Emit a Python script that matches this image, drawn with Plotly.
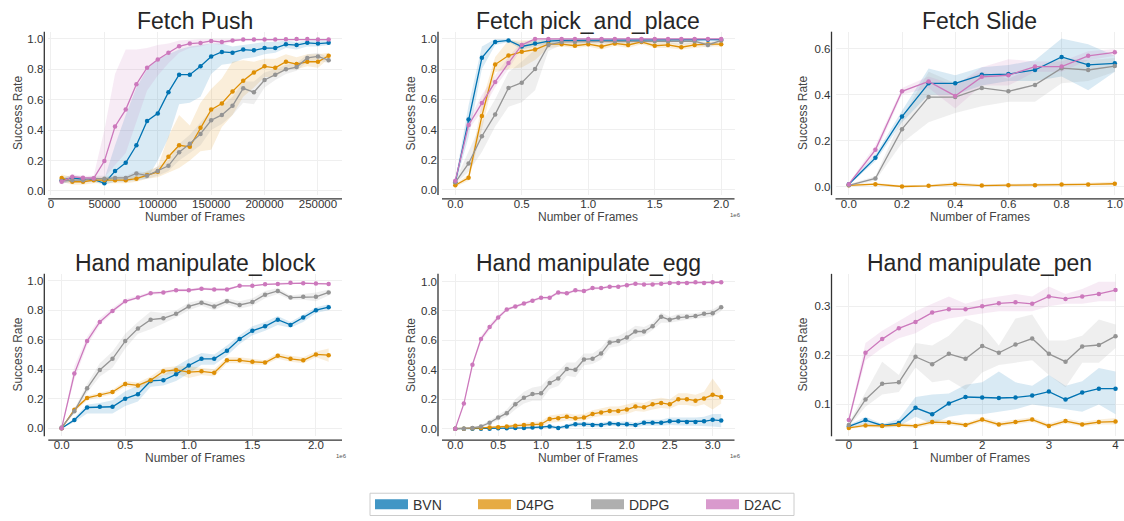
import plotly.graph_objects as go

W, H = 1124, 521

# ---------------- data ----------------
series_names = ["BVN", "D4PG", "DDPG", "D2AC"]
line_colors = {"BVN": (1, 115, 178), "D4PG": (222, 143, 5), "DDPG": (148, 148, 148), "D2AC": (204, 120, 188)}

titles = ["Fetch Push", "Fetch pick_and_place", "Fetch Slide",
          "Hand manipulate_block", "Hand manipulate_egg", "Hand manipulate_pen"]

# ---- Fetch Push ----
push_x = [10000, 20000, 30000, 40000, 50000, 60000, 70000, 80000, 90000, 100000, 110000, 120000, 130000,
          140000, 150000, 160000, 170000, 180000, 190000, 200000, 210000, 220000, 230000, 240000, 250000, 260000]
push_bvn = [0.07, 0.085, 0.075, 0.075, 0.05, 0.13, 0.185, 0.30, 0.46, 0.51, 0.65, 0.765, 0.765, 0.82, 0.885, 0.915, 0.91, 0.93, 0.925, 0.94, 0.94, 0.965, 0.96, 0.975, 0.97, 0.975]
push_bvn_lo = [0.05, 0.06, 0.06, 0.06, 0.04, 0.06, 0.06, 0.07, 0.08, 0.20, 0.35, 0.57, 0.58, 0.62, 0.77, 0.83, 0.84, 0.87, 0.88, 0.90, 0.91, 0.94, 0.93, 0.95, 0.95, 0.96]
push_bvn_hi = [0.09, 0.10, 0.09, 0.09, 0.08, 0.30, 0.50, 0.68, 0.80, 0.87, 0.90, 0.93, 0.95, 0.96, 0.97, 0.97, 0.95, 0.96, 0.97, 0.98, 0.98, 0.99, 0.98, 0.99, 0.99, 0.99]
push_d4pg = [0.085, 0.06, 0.06, 0.07, 0.07, 0.07, 0.07, 0.08, 0.105, 0.125, 0.225, 0.30, 0.29, 0.415, 0.535, 0.575, 0.655, 0.725, 0.78, 0.82, 0.81, 0.85, 0.835, 0.85, 0.85, 0.89]
push_d4pg_lo = [0.06, 0.04, 0.04, 0.05, 0.05, 0.05, 0.05, 0.06, 0.08, 0.09, 0.12, 0.15, 0.20, 0.26, 0.27, 0.42, 0.50, 0.62, 0.68, 0.75, 0.75, 0.80, 0.80, 0.82, 0.81, 0.87]
push_d4pg_hi = [0.11, 0.09, 0.08, 0.09, 0.09, 0.09, 0.09, 0.10, 0.13, 0.16, 0.36, 0.50, 0.43, 0.58, 0.67, 0.74, 0.85, 0.86, 0.85, 0.87, 0.87, 0.90, 0.88, 0.90, 0.90, 0.91]
push_ddpg = [0.065, 0.07, 0.07, 0.08, 0.08, 0.085, 0.085, 0.115, 0.10, 0.13, 0.165, 0.255, 0.31, 0.375, 0.465, 0.50, 0.56, 0.675, 0.65, 0.73, 0.765, 0.80, 0.815, 0.875, 0.885, 0.86]
push_ddpg_lo = [0.05, 0.055, 0.055, 0.06, 0.06, 0.07, 0.07, 0.09, 0.08, 0.10, 0.13, 0.20, 0.25, 0.30, 0.40, 0.44, 0.50, 0.58, 0.57, 0.68, 0.73, 0.77, 0.79, 0.85, 0.86, 0.84]
push_ddpg_hi = [0.08, 0.085, 0.085, 0.10, 0.10, 0.10, 0.10, 0.13, 0.12, 0.16, 0.20, 0.31, 0.37, 0.45, 0.53, 0.56, 0.62, 0.72, 0.72, 0.78, 0.80, 0.83, 0.84, 0.90, 0.91, 0.88]
push_d2ac = [0.06, 0.093, 0.087, 0.083, 0.196, 0.424, 0.535, 0.702, 0.811, 0.865, 0.909, 0.952, 0.97, 0.974, 0.987, 0.98, 0.99, 0.996, 0.996, 0.996, 0.996, 0.998, 1.0, 1.0, 0.996, 0.996]
push_d2ac_lo = [0.04, 0.08, 0.07, 0.07, 0.09, 0.17, 0.25, 0.45, 0.66, 0.76, 0.84, 0.91, 0.94, 0.95, 0.97, 0.96, 0.98, 0.99, 0.99, 0.99, 0.99, 0.995, 0.995, 0.995, 0.99, 0.99]
push_d2ac_hi = [0.08, 0.11, 0.10, 0.10, 0.40, 0.77, 0.93, 0.93, 0.94, 0.96, 0.97, 0.99, 0.995, 1.0, 1.0, 1.0, 1.0, 1.0, 1.0, 1.0, 1.0, 1.0, 1.0, 1.0, 1.0, 1.0]

# ---- Fetch pick_and_place ----
pick_x = [0, 100000, 200000, 300000, 400000, 500000, 600000, 700000, 800000, 900000, 1000000, 1100000,
          1200000, 1300000, 1400000, 1500000, 1600000, 1700000, 1800000, 1900000, 2000000]
pick_bvn = [0.05, 0.466, 0.875, 0.98, 0.99, 0.95, 0.97, 0.985, 0.99, 0.99, 0.995, 0.995, 0.995, 0.99, 0.995, 0.995, 0.99, 0.99, 0.995, 0.995, 0.995]
pick_bvn_lo = [0.03, 0.35, 0.80, 0.96, 0.98, 0.93, 0.95, 0.97, 0.98, 0.98, 0.99, 0.99, 0.99, 0.98, 0.99, 0.99, 0.98, 0.98, 0.99, 0.99, 0.99]
pick_bvn_hi = [0.07, 0.56, 0.95, 1.0, 1.0, 0.97, 0.99, 1.0, 1.0, 1.0, 1.0, 1.0, 1.0, 1.0, 1.0, 1.0, 1.0, 1.0, 1.0, 1.0, 1.0]
pick_d4pg = [0.03, 0.08, 0.49, 0.83, 0.89, 0.915, 0.93, 0.965, 0.965, 0.955, 0.965, 0.95, 0.97, 0.96, 0.98, 0.955, 0.96, 0.945, 0.96, 0.965, 0.965]
pick_d4pg_lo = [0.02, 0.06, 0.40, 0.78, 0.80, 0.81, 0.86, 0.94, 0.95, 0.94, 0.95, 0.93, 0.955, 0.94, 0.965, 0.94, 0.94, 0.93, 0.94, 0.95, 0.95]
pick_d4pg_hi = [0.04, 0.10, 0.58, 0.88, 0.99, 0.99, 0.99, 0.99, 0.98, 0.975, 0.98, 0.97, 0.985, 0.98, 0.995, 0.975, 0.98, 0.965, 0.98, 0.98, 0.98]
pick_ddpg = [0.05, 0.175, 0.355, 0.50, 0.675, 0.71, 0.80, 0.96, 0.98, 0.98, 0.985, 0.985, 0.985, 0.985, 0.985, 0.985, 0.985, 0.98, 0.985, 0.96, 0.99]
pick_ddpg_lo = [0.04, 0.12, 0.25, 0.42, 0.55, 0.58, 0.66, 0.92, 0.96, 0.96, 0.97, 0.97, 0.97, 0.97, 0.97, 0.97, 0.97, 0.96, 0.97, 0.94, 0.98]
pick_ddpg_hi = [0.06, 0.25, 0.45, 0.60, 0.78, 0.85, 0.93, 1.0, 1.0, 1.0, 1.0, 1.0, 1.0, 1.0, 1.0, 1.0, 1.0, 1.0, 1.0, 0.98, 1.0]
pick_d2ac = [0.06, 0.43, 0.575, 0.715, 0.84, 0.96, 1.0, 1.0, 1.0, 1.0, 1.0, 1.0, 1.0, 1.0, 1.0, 1.0, 1.0, 1.0, 1.0, 1.0, 1.0]
pick_d2ac_lo = [0.05, 0.40, 0.52, 0.68, 0.80, 0.94, 0.99, 0.995, 0.995, 0.995, 0.995, 0.995, 0.995, 0.995, 0.995, 0.995, 0.995, 0.995, 0.995, 0.995, 0.995]
pick_d2ac_hi = [0.07, 0.46, 0.63, 0.76, 0.88, 0.98, 1.0, 1.0, 1.0, 1.0, 1.0, 1.0, 1.0, 1.0, 1.0, 1.0, 1.0, 1.0, 1.0, 1.0, 1.0]

# ---- Fetch Slide ----
slide_x = [0, 100000, 200000, 300000, 400000, 500000, 600000, 700000, 800000, 900000, 1000000]
slide_bvn = [0.01, 0.125, 0.305, 0.45, 0.45, 0.487, 0.49, 0.508, 0.565, 0.53, 0.537]
slide_bvn_lo = [0.005, 0.11, 0.28, 0.40, 0.40, 0.44, 0.46, 0.46, 0.48, 0.42, 0.50]
slide_bvn_hi = [0.015, 0.14, 0.33, 0.515, 0.485, 0.52, 0.53, 0.55, 0.645, 0.62, 0.57]
slide_d4pg = [0.005, 0.01, 0.0, 0.003, 0.01, 0.004, 0.006, 0.006, 0.009, 0.009, 0.012]
slide_d4pg_lo = [0.0, 0.005, -0.005, -0.002, 0.002, 0.0, 0.002, 0.002, 0.004, 0.003, 0.004]
slide_d4pg_hi = [0.01, 0.015, 0.005, 0.008, 0.02, 0.01, 0.012, 0.012, 0.015, 0.016, 0.022]
slide_ddpg = [0.005, 0.035, 0.25, 0.39, 0.39, 0.43, 0.415, 0.443, 0.516, 0.508, 0.525]
slide_ddpg_lo = [0.0, 0.025, 0.19, 0.28, 0.32, 0.35, 0.37, 0.37, 0.45, 0.46, 0.50]
slide_ddpg_hi = [0.01, 0.045, 0.30, 0.50, 0.45, 0.50, 0.47, 0.52, 0.56, 0.55, 0.56]
slide_d2ac = [0.01, 0.16, 0.415, 0.458, 0.395, 0.478, 0.485, 0.523, 0.523, 0.57, 0.585]
slide_d2ac_lo = [0.005, 0.14, 0.40, 0.43, 0.34, 0.44, 0.44, 0.50, 0.50, 0.55, 0.57]
slide_d2ac_hi = [0.015, 0.18, 0.43, 0.48, 0.44, 0.52, 0.555, 0.545, 0.545, 0.59, 0.60]

# ---- Hand manipulate_block ----
block_x = [0, 100000, 200000, 300000, 400000, 500000, 600000, 700000, 800000, 900000, 1000000, 1100000,
           1200000, 1300000, 1400000, 1500000, 1600000, 1700000, 1800000, 1900000, 2000000, 2100000]
block_bvn = [0.0, 0.055, 0.14, 0.145, 0.145, 0.2, 0.23, 0.32, 0.325, 0.365, 0.425, 0.47, 0.47, 0.525, 0.605, 0.66, 0.69, 0.735, 0.70, 0.75, 0.80, 0.82]
block_bvn_lo = [0.0, 0.04, 0.10, 0.10, 0.10, 0.15, 0.18, 0.28, 0.29, 0.32, 0.37, 0.43, 0.43, 0.49, 0.57, 0.63, 0.66, 0.70, 0.68, 0.72, 0.78, 0.80]
block_bvn_hi = [0.0, 0.07, 0.16, 0.17, 0.19, 0.25, 0.29, 0.34, 0.36, 0.42, 0.47, 0.51, 0.50, 0.56, 0.63, 0.69, 0.72, 0.76, 0.72, 0.77, 0.82, 0.84]
block_d4pg = [0.0, 0.125, 0.205, 0.225, 0.245, 0.30, 0.29, 0.325, 0.385, 0.395, 0.38, 0.385, 0.375, 0.46, 0.46, 0.45, 0.445, 0.49, 0.47, 0.46, 0.50, 0.495]
block_d4pg_lo = [0.0, 0.11, 0.19, 0.21, 0.23, 0.28, 0.27, 0.30, 0.36, 0.37, 0.34, 0.36, 0.35, 0.44, 0.44, 0.43, 0.43, 0.47, 0.45, 0.44, 0.48, 0.45]
block_d4pg_hi = [0.0, 0.14, 0.22, 0.24, 0.26, 0.32, 0.31, 0.35, 0.41, 0.42, 0.42, 0.41, 0.40, 0.48, 0.48, 0.47, 0.46, 0.51, 0.49, 0.48, 0.52, 0.54]
block_ddpg = [0.005, 0.115, 0.27, 0.395, 0.47, 0.59, 0.675, 0.735, 0.745, 0.775, 0.825, 0.85, 0.825, 0.86, 0.835, 0.855, 0.905, 0.93, 0.885, 0.89, 0.89, 0.92]
block_ddpg_lo = [0.0, 0.10, 0.24, 0.35, 0.41, 0.54, 0.64, 0.67, 0.71, 0.75, 0.80, 0.83, 0.80, 0.84, 0.81, 0.83, 0.88, 0.91, 0.87, 0.87, 0.86, 0.90]
block_ddpg_hi = [0.01, 0.13, 0.30, 0.44, 0.52, 0.64, 0.72, 0.79, 0.78, 0.80, 0.85, 0.87, 0.85, 0.88, 0.86, 0.88, 0.93, 0.95, 0.90, 0.91, 0.92, 0.94]
block_d2ac = [0.0, 0.37, 0.59, 0.72, 0.795, 0.86, 0.885, 0.915, 0.92, 0.935, 0.935, 0.945, 0.94, 0.94, 0.965, 0.965, 0.975, 0.978, 0.985, 0.983, 0.98, 0.978]
block_d2ac_lo = [0.0, 0.33, 0.56, 0.70, 0.78, 0.85, 0.875, 0.905, 0.91, 0.925, 0.925, 0.94, 0.93, 0.93, 0.96, 0.96, 0.97, 0.972, 0.98, 0.978, 0.975, 0.972]
block_d2ac_hi = [0.0, 0.42, 0.62, 0.745, 0.815, 0.875, 0.9, 0.925, 0.93, 0.945, 0.945, 0.955, 0.95, 0.95, 0.97, 0.97, 0.98, 0.984, 0.99, 0.988, 0.985, 0.984]

# ---- Hand manipulate_egg ----
egg_x = [0, 100000, 200000, 300000, 400000, 500000, 600000, 700000, 800000, 900000, 1000000, 1100000,
         1200000, 1300000, 1400000, 1500000, 1600000, 1700000, 1800000, 1900000, 2000000, 2100000,
         2200000, 2300000, 2400000, 2500000, 2600000, 2700000, 2800000, 2900000, 3000000, 3100000]
egg_bvn = [0.0, 0.0, 0.0, 0.0, 0.0, 0.002, 0.003, 0.004, 0.005, 0.007, 0.01, 0.015, 0.005, 0.015, 0.03, 0.03, 0.025, 0.025, 0.035, 0.03, 0.03, 0.025, 0.04, 0.04, 0.04, 0.05, 0.05, 0.045, 0.045, 0.05, 0.06, 0.055]
egg_bvn_lo = [0.0, 0.0, 0.0, 0.0, 0.0, 0.0, 0.0, 0.0, 0.0, 0.0, 0.0, 0.005, 0.0, 0.005, 0.015, 0.015, 0.01, 0.01, 0.02, 0.015, 0.015, 0.01, 0.02, 0.02, 0.02, 0.025, 0.025, 0.02, 0.02, 0.02, 0.015, 0.01]
egg_bvn_hi = [0.0, 0.0, 0.0, 0.002, 0.003, 0.005, 0.007, 0.01, 0.012, 0.015, 0.02, 0.028, 0.015, 0.03, 0.045, 0.047, 0.04, 0.04, 0.05, 0.047, 0.05, 0.04, 0.06, 0.06, 0.06, 0.075, 0.075, 0.07, 0.075, 0.08, 0.1, 0.1]
egg_d4pg = [0.0, 0.0, 0.003, 0.005, 0.008, 0.01, 0.015, 0.02, 0.025, 0.03, 0.03, 0.065, 0.07, 0.08, 0.07, 0.075, 0.1, 0.11, 0.12, 0.12, 0.13, 0.15, 0.145, 0.165, 0.175, 0.165, 0.2, 0.2, 0.19, 0.205, 0.23, 0.215]
egg_d4pg_lo = [0.0, 0.0, 0.0, 0.0, 0.0, 0.003, 0.005, 0.01, 0.013, 0.015, 0.015, 0.04, 0.045, 0.055, 0.05, 0.055, 0.075, 0.085, 0.09, 0.09, 0.1, 0.12, 0.115, 0.13, 0.14, 0.135, 0.16, 0.16, 0.15, 0.165, 0.13, 0.17]
egg_d4pg_hi = [0.0, 0.0, 0.006, 0.01, 0.016, 0.02, 0.025, 0.03, 0.04, 0.045, 0.05, 0.09, 0.1, 0.105, 0.095, 0.1, 0.125, 0.14, 0.15, 0.15, 0.165, 0.18, 0.175, 0.2, 0.21, 0.2, 0.24, 0.24, 0.23, 0.25, 0.34, 0.26]
egg_ddpg = [0.0, 0.0, 0.005, 0.015, 0.04, 0.075, 0.105, 0.165, 0.21, 0.235, 0.24, 0.31, 0.34, 0.405, 0.40, 0.47, 0.475, 0.51, 0.585, 0.595, 0.62, 0.66, 0.66, 0.695, 0.76, 0.74, 0.755, 0.76, 0.765, 0.78, 0.785, 0.825]
egg_ddpg_lo = [0.0, 0.0, 0.0, 0.005, 0.025, 0.055, 0.08, 0.13, 0.17, 0.19, 0.19, 0.27, 0.29, 0.36, 0.35, 0.43, 0.44, 0.47, 0.55, 0.56, 0.58, 0.62, 0.63, 0.67, 0.72, 0.72, 0.73, 0.74, 0.745, 0.755, 0.76, 0.80]
egg_ddpg_hi = [0.0, 0.0, 0.01, 0.025, 0.055, 0.095, 0.13, 0.2, 0.25, 0.28, 0.29, 0.35, 0.39, 0.45, 0.45, 0.51, 0.51, 0.55, 0.62, 0.63, 0.66, 0.70, 0.69, 0.72, 0.79, 0.76, 0.78, 0.78, 0.785, 0.80, 0.81, 0.845]
egg_d2ac = [0.0, 0.17, 0.435, 0.61, 0.69, 0.755, 0.81, 0.83, 0.85, 0.87, 0.89, 0.89, 0.925, 0.92, 0.94, 0.935, 0.955, 0.955, 0.965, 0.965, 0.975, 0.985, 0.98, 0.98, 0.985, 0.99, 0.99, 0.99, 0.995, 0.99, 0.995, 0.995]
egg_d2ac_lo = [0.0, 0.16, 0.42, 0.59, 0.67, 0.74, 0.80, 0.82, 0.84, 0.86, 0.88, 0.88, 0.915, 0.91, 0.93, 0.925, 0.945, 0.945, 0.955, 0.957, 0.967, 0.977, 0.972, 0.972, 0.977, 0.983, 0.983, 0.983, 0.988, 0.983, 0.988, 0.988]
egg_d2ac_hi = [0.0, 0.18, 0.45, 0.63, 0.71, 0.77, 0.82, 0.84, 0.86, 0.88, 0.90, 0.90, 0.935, 0.93, 0.95, 0.945, 0.965, 0.965, 0.975, 0.973, 0.983, 0.993, 0.988, 0.988, 0.993, 0.997, 0.997, 0.997, 1.0, 0.997, 1.0, 1.0]

# ---- Hand manipulate_pen ----
pen_x = [0, 250000, 500000, 750000, 1000000, 1250000, 1500000, 1750000, 2000000, 2250000, 2500000,
         2750000, 3000000, 3250000, 3500000, 3750000, 4000000]
pen_bvn = [0.055, 0.068, 0.057, 0.062, 0.093, 0.08, 0.102, 0.115, 0.114, 0.113, 0.114, 0.118, 0.126, 0.11, 0.124, 0.132, 0.132]
pen_bvn_lo = [0.053, 0.06, 0.054, 0.055, 0.075, 0.06, 0.075, 0.08, 0.08, 0.085, 0.09, 0.10, 0.095, 0.09, 0.085, 0.10, 0.08]
pen_bvn_hi = [0.058, 0.075, 0.06, 0.07, 0.115, 0.12, 0.122, 0.14, 0.145, 0.167, 0.145, 0.138, 0.16, 0.138, 0.147, 0.174, 0.167]
pen_d4pg = [0.052, 0.057, 0.056, 0.058, 0.056, 0.064, 0.063, 0.058, 0.069, 0.059, 0.064, 0.069, 0.056, 0.066, 0.059, 0.064, 0.065]
pen_d4pg_lo = [0.050, 0.054, 0.052, 0.054, 0.052, 0.059, 0.058, 0.054, 0.064, 0.055, 0.059, 0.064, 0.052, 0.061, 0.055, 0.059, 0.059]
pen_d4pg_hi = [0.055, 0.061, 0.060, 0.062, 0.060, 0.069, 0.068, 0.062, 0.074, 0.064, 0.069, 0.074, 0.061, 0.071, 0.064, 0.069, 0.072]
pen_ddpg = [0.058, 0.11, 0.142, 0.145, 0.197, 0.182, 0.203, 0.193, 0.219, 0.205, 0.222, 0.234, 0.203, 0.187, 0.218, 0.221, 0.239]
pen_ddpg_lo = [0.055, 0.095, 0.12, 0.125, 0.175, 0.145, 0.15, 0.13, 0.165, 0.18, 0.185, 0.19, 0.16, 0.135, 0.185, 0.185, 0.215]
pen_ddpg_hi = [0.062, 0.125, 0.187, 0.16, 0.225, 0.22, 0.24, 0.275, 0.262, 0.22, 0.275, 0.283, 0.23, 0.23, 0.24, 0.273, 0.263]
pen_d2ac = [0.068, 0.205, 0.233, 0.255, 0.268, 0.287, 0.294, 0.294, 0.30, 0.306, 0.308, 0.305, 0.32, 0.315, 0.32, 0.325, 0.333]
pen_d2ac_lo = [0.062, 0.19, 0.215, 0.235, 0.245, 0.265, 0.275, 0.28, 0.285, 0.29, 0.29, 0.29, 0.30, 0.305, 0.305, 0.31, 0.31]
pen_d2ac_hi = [0.072, 0.225, 0.25, 0.27, 0.29, 0.305, 0.32, 0.305, 0.315, 0.32, 0.325, 0.32, 0.34, 0.325, 0.335, 0.35, 0.35]

# ---- tick labels ----
push_xticks = [0, 50000, 100000, 150000, 200000, 250000]
push_xlabels = ["0", "50000", "100000", "150000", "200000", "250000"]
pick_xticks = [0, 500000, 1000000, 1500000, 2000000]
pick_xlabels = ["0.0", "0.5", "1.0", "1.5", "2.0"]
slide_xticks = [0, 200000, 400000, 600000, 800000, 1000000]
slide_xlabels = ["0.0", "0.2", "0.4", "0.6", "0.8", "1.0"]
block_xticks = [0, 500000, 1000000, 1500000, 2000000]
block_xlabels = ["0.0", "0.5", "1.0", "1.5", "2.0"]
egg_xticks = [0, 500000, 1000000, 1500000, 2000000, 2500000, 3000000]
egg_xlabels = ["0.0", "0.5", "1.0", "1.5", "2.0", "2.5", "3.0"]
pen_xticks = [0, 1000000, 2000000, 3000000, 4000000]
pen_xlabels = ["0", "1", "2", "3", "4"]
unit_yticks = [0.0, 0.2, 0.4, 0.6, 0.8, 1.0]
unit_ylabels = ["0.0", "0.2", "0.4", "0.6", "0.8", "1.0"]
slide_yticks = [0.0, 0.2, 0.4, 0.6]
slide_ylabels = ["0.0", "0.2", "0.4", "0.6"]
pen_yticks = [0.1, 0.2, 0.3]
pen_ylabels = ["0.1", "0.2", "0.3"]

# ---------------- assembly ----------------
panels = [
    dict(x=push_x, data={"BVN": (push_bvn, push_bvn_lo, push_bvn_hi), "D4PG": (push_d4pg, push_d4pg_lo, push_d4pg_hi),
                          "DDPG": (push_ddpg, push_ddpg_lo, push_ddpg_hi), "D2AC": (push_d2ac, push_d2ac_lo, push_d2ac_hi)},
         xt=(push_xticks, push_xlabels), yt=(unit_yticks, unit_ylabels), xr=[-2500, 272500], yr=[-0.028, 1.048], exp=False),
    dict(x=pick_x, data={"BVN": (pick_bvn, pick_bvn_lo, pick_bvn_hi), "D4PG": (pick_d4pg, pick_d4pg_lo, pick_d4pg_hi),
                          "DDPG": (pick_ddpg, pick_ddpg_lo, pick_ddpg_hi), "D2AC": (pick_d2ac, pick_d2ac_lo, pick_d2ac_hi)},
         xt=(pick_xticks, pick_xlabels), yt=(unit_yticks, unit_ylabels), xr=[-100000, 2100000], yr=[-0.035, 1.048], exp=True),
    dict(x=slide_x, data={"BVN": (slide_bvn, slide_bvn_lo, slide_bvn_hi), "D4PG": (slide_d4pg, slide_d4pg_lo, slide_d4pg_hi),
                           "DDPG": (slide_ddpg, slide_ddpg_lo, slide_ddpg_hi), "D2AC": (slide_d2ac, slide_d2ac_lo, slide_d2ac_hi)},
         xt=(slide_xticks, slide_xlabels), yt=(slide_yticks, slide_ylabels), xr=[-50000, 1034600], yr=[-0.0375, 0.675], exp=True),
    dict(x=block_x, data={"BVN": (block_bvn, block_bvn_lo, block_bvn_hi), "D4PG": (block_d4pg, block_d4pg_lo, block_d4pg_hi),
                           "DDPG": (block_ddpg, block_ddpg_lo, block_ddpg_hi), "D2AC": (block_d2ac, block_d2ac_lo, block_d2ac_hi)},
         xt=(block_xticks, block_xlabels), yt=(unit_yticks, unit_ylabels), xr=[-105000, 2205000], yr=[-0.055, 1.046], exp=True),
    dict(x=egg_x, data={"BVN": (egg_bvn, egg_bvn_lo, egg_bvn_hi), "D4PG": (egg_d4pg, egg_d4pg_lo, egg_d4pg_hi),
                         "DDPG": (egg_ddpg, egg_ddpg_lo, egg_ddpg_hi), "D2AC": (egg_d2ac, egg_d2ac_lo, egg_d2ac_hi)},
         xt=(egg_xticks, egg_xlabels), yt=(unit_yticks, unit_ylabels), xr=[-155000, 3255000], yr=[-0.052, 1.052], exp=True),
    dict(x=pen_x, data={"BVN": (pen_bvn, pen_bvn_lo, pen_bvn_hi), "D4PG": (pen_d4pg, pen_d4pg_lo, pen_d4pg_hi),
                         "DDPG": (pen_ddpg, pen_ddpg_lo, pen_ddpg_hi), "D2AC": (pen_d2ac, pen_d2ac_lo, pen_d2ac_hi)},
         xt=(pen_xticks, pen_xlabels), yt=(pen_yticks, pen_ylabels), xr=[-200000, 4127000], yr=[0.035, 0.366], exp=True),
]

# plot-area pixel boxes (left, right) per column, (top, bottom) per row
cols = [(48.3, 342.0), (442.0, 734.5), (835.5, 1124.0)]
rows = [(32.0, 197.0), (276.5, 440.5)]
ylab_x = [18.5, 411.0, 803.5]
legend_sym_x = [375, 478, 591, 706]   # left edge of each legend patch (px)


def rgba(c, a):
    return "rgba(%d,%d,%d,%s)" % (c[0], c[1], c[2], a)


FONT = "Liberation Sans, Arial, Helvetica, sans-serif"
fig = go.Figure()
shapes, annotations = [], []
layout_extra = {}

for i, p in enumerate(panels):
    r, c = divmod(i, 3)
    k = "" if i == 0 else str(i + 1)
    xa, ya = "x" + k, "y" + k
    L, R = cols[c]
    T, B = rows[r]
    # bands
    for name in series_names:
        m, lo, hi = p["data"][name]
        fig.add_trace(go.Scatter(x=list(p["x"]) + list(p["x"])[::-1], y=list(hi) + list(lo)[::-1],
                                 fill="toself", fillcolor=rgba(line_colors[name], 0.15),
                                 line=dict(width=0), mode="lines", hoverinfo="skip",
                                 showlegend=False, xaxis=xa, yaxis=ya))
    for name in series_names:
        m, lo, hi = p["data"][name]
        fig.add_trace(go.Scatter(x=p["x"], y=m, mode="lines+markers", name=name,
                                 line=dict(color=rgba(line_colors[name], 1), width=1.3),
                                 marker=dict(size=4.5, color=rgba(line_colors[name], 1)),
                                 showlegend=False, xaxis=xa, yaxis=ya))
    layout_extra["xaxis" + k] = dict(domain=[L / W, R / W], range=p["xr"], anchor=ya,
                                     tickvals=p["xt"][0], ticktext=p["xt"][1],
                                     showgrid=True, gridcolor="#efefef", gridwidth=1,
                                     zeroline=False, showline=False, ticks="",
                                     ticklabeloverflow="allow",
                                     tickfont=dict(size=11.5, color="#333333", family=FONT))
    layout_extra["yaxis" + k] = dict(domain=[1 - B / H, 1 - T / H], range=p["yr"], anchor=xa,
                                     tickvals=p["yt"][0], ticktext=p["yt"][1],
                                     showgrid=True, gridcolor="#efefef", gridwidth=1,
                                     zeroline=False, showline=False, ticks="",
                                     ticklabelstandoff=4,
                                     tickfont=dict(size=11.5, color="#333333", family=FONT))
    # offset spines
    shapes.append(dict(type="line", xref="paper", yref="paper", x0=(L - 4) / W, x1=(L - 4) / W,
                       y0=1 - B / H, y1=1 - T / H, line=dict(color="#333333", width=1.3)))
    shapes.append(dict(type="line", xref="paper", yref="paper", x0=L / W, x1=R / W,
                       y0=1 - (B + 3.8) / H, y1=1 - (B + 3.8) / H, line=dict(color="#333333", width=1.3)))
    cx = (L + min(R, L + 293.5)) / 2 / W
    # titles
    annotations.append(dict(text=titles[i], xref="paper", yref="paper", x=cx,
                            y=1 - (T - 11) / H, xanchor="center", yanchor="middle", showarrow=False,
                            font=dict(size=23, color="#262626", family=FONT)))
    annotations.append(dict(text="Success Rate", xref="paper", yref="paper", x=ylab_x[c] / W,
                            y=1 - (T + B) / 2 / H, xanchor="center", yanchor="middle", textangle=-90,
                            showarrow=False, font=dict(size=12, color="#444444", family=FONT)))
    annotations.append(dict(text="Number of Frames", xref="paper", yref="paper", x=cx,
                            y=1 - (B + 22) / H, xanchor="center", yanchor="middle",
                            showarrow=False, font=dict(size=12, color="#444444", family=FONT)))
    if p["exp"]:
        annotations.append(dict(text="1e6", xref="paper", yref="paper", x=(L + 286) / W,
                                y=1 - (B + 20) / H, xanchor="left", yanchor="middle",
                                showarrow=False, font=dict(size=6, color="#555555", family=FONT)))

# legend frame
shapes.append(dict(type="rect", xref="paper", yref="paper", x0=370 / W, x1=794 / W,
                   y0=1 - 520.5 / H, y1=1 - 498 / H, line=dict(color="#cccccc", width=1),
                   fillcolor="white", layer="below"))

# legend entries, one small legend per entry so each sits where the reference puts it
for j, name in enumerate(series_names):
    lg = "legend" if j == 0 else "legend%d" % (j + 1)
    fig.add_trace(go.Scatter(x=[None], y=[None], mode="lines", name=name, legend=lg,
                             line=dict(color=rgba(line_colors[name], 0.75), width=10),
                             showlegend=True, xaxis="x", yaxis="y"))
    layout_extra[lg] = dict(x=(legend_sym_x[j] - 5) / W, xanchor="left", y=1 - 509.5 / H, yanchor="middle",
                            borderwidth=0, bgcolor="rgba(0,0,0,0)",
                            font=dict(size=14, color="#333333", family=FONT), itemwidth=33)

fig.update_layout(
    width=W, height=H, margin=dict(l=0, r=0, t=0, b=0),
    paper_bgcolor="white", plot_bgcolor="white",
    font=dict(family=FONT, color="#333333"),
    shapes=shapes, annotations=annotations,
    **layout_extra,
)

fig.write_html("out.html", config={"displayModeBar": False},
               post_script="document.body.style.margin='0px';")
